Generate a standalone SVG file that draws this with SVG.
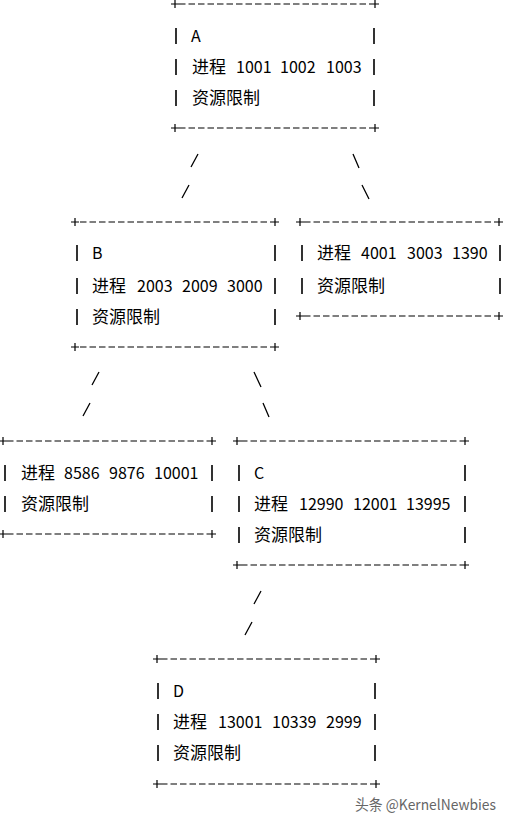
<svg xmlns="http://www.w3.org/2000/svg" width="507" height="823" viewBox="0 0 507 823">
<style>
.bg{fill:#fff}
.dash{stroke:#000;stroke-width:1.2;stroke-dasharray:6.5 3;fill:none}
.plus{stroke:#000;stroke-width:1.2;fill:none}
.bar{stroke:#000;stroke-width:1.6;fill:none}
.t{font-family:"Noto Sans CJK SC","Noto Sans",sans-serif;font-size:16px;fill:#000}
.c{font-size:17px}
.edge{stroke:#000;stroke-width:1.3;fill:none}
.wm{font-family:"Noto Sans CJK SC","Liberation Sans",sans-serif;font-size:14.5px;fill:#666}
</style>
<rect class="bg" width="507" height="823"/>
<g id="connectors">
<path class="edge" d="M198 154L191 167M189 185L182 198M353 154L359 168M362 185L369 199"/>
<path class="edge" d="M99 372L92 385M90 403L83 416M254 372L261 387M263 403L269 417"/>
<path class="edge" d="M261 591L254 604M252 622L245 635"/>
</g>
<g id="nodeA">
<path class="dash" d="M179 4H371M179 128H371"/>
<path class="plus" d="M171 4h8M175 0v8M371 4h8M375 0v8M171 128h8M175 124v8M371 128h8M375 124v8"/>
<path class="bar" d="M176 28v16M374 28v16M176 59v16M374 59v16M176 90v16M374 90v16"/>
<text class="t" x="191" y="42">A</text>
<text class="t" y="73"><tspan class="c" x="192">进程</tspan><tspan x="236">1001</tspan><tspan x="280">1002</tspan><tspan x="326">1003</tspan></text>
<text class="t c" x="192" y="104">资源限制</text>
</g>
<g id="nodeB">
<path class="dash" d="M80 222H271M80 347H271"/>
<path class="plus" d="M71 222h8M75 218v8M271 222h8M275 218v8M71 347h8M75 343v8M271 347h8M275 343v8"/>
<path class="bar" d="M77 245v16M275 245v16M77 278v16M275 278v16M77 309v16M275 309v16"/>
<text class="t" x="92" y="259">B</text>
<text class="t" y="292"><tspan class="c" x="92">进程</tspan><tspan x="137">2003</tspan><tspan x="182">2009</tspan><tspan x="227">3000</tspan></text>
<text class="t c" x="92" y="323">资源限制</text>
</g>
<g id="nodeE">
<path class="dash" d="M304 222H495M304 316H495"/>
<path class="plus" d="M296 222h8M300 218v8M495 222h8M499 218v8M296 316h8M300 312v8M495 316h8M499 312v8"/>
<path class="bar" d="M302 245v16M500 245v16M302 278v16M500 278v16"/>
<text class="t" y="259"><tspan class="c" x="317">进程</tspan><tspan x="361">4001</tspan><tspan x="407">3003</tspan><tspan x="452">1390</tspan></text>
<text class="t c" x="317" y="292">资源限制</text>
</g>
<g id="nodeF">
<path class="dash" d="M7 441H208M7 534H208"/>
<path class="plus" d="M0 441h7M3 437v8M208 441h8M212 437v8M0 534h7M3 530v8M208 534h8M212 530v8"/>
<path class="bar" d="M5 465v16M212 465v16M5 496v16M212 496v16"/>
<text class="t" y="479"><tspan class="c" x="21">进程</tspan><tspan x="64">8586</tspan><tspan x="109">9876</tspan><tspan x="154">10001</tspan></text>
<text class="t c" x="21" y="510">资源限制</text>
</g>
<g id="nodeC">
<path class="dash" d="M241 441H461M241 565H461"/>
<path class="plus" d="M233 441h8M237 437v8M461 441h8M465 437v8M233 565h8M237 561v8M461 565h8M465 561v8"/>
<path class="bar" d="M239 465v16M465 465v16M239 496v16M465 496v16M239 527v16M465 527v16"/>
<text class="t" x="254" y="479">C</text>
<text class="t" y="510"><tspan class="c" x="254">进程</tspan><tspan x="299">12990</tspan><tspan x="353">12001</tspan><tspan x="406">13995</tspan></text>
<text class="t c" x="254" y="541">资源限制</text>
</g>
<g id="nodeD">
<path class="dash" d="M161 659H372M161 784H372"/>
<path class="plus" d="M153 659h8M157 655v8M372 659h8M376 655v8M153 784h8M157 780v8M372 784h8M376 780v8"/>
<path class="bar" d="M158 683v16M375 683v16M158 714v16M375 714v16M158 745v16M375 745v16"/>
<text class="t" x="173" y="697">D</text>
<text class="t" y="728"><tspan class="c" x="173">进程</tspan><tspan x="218">13001</tspan><tspan x="272">10339</tspan><tspan x="326">2999</tspan></text>
<text class="t c" x="173" y="759">资源限制</text>
</g>
<text class="wm" x="355" y="810" textLength="141" lengthAdjust="spacingAndGlyphs">头条 @KernelNewbies</text>
</svg>
